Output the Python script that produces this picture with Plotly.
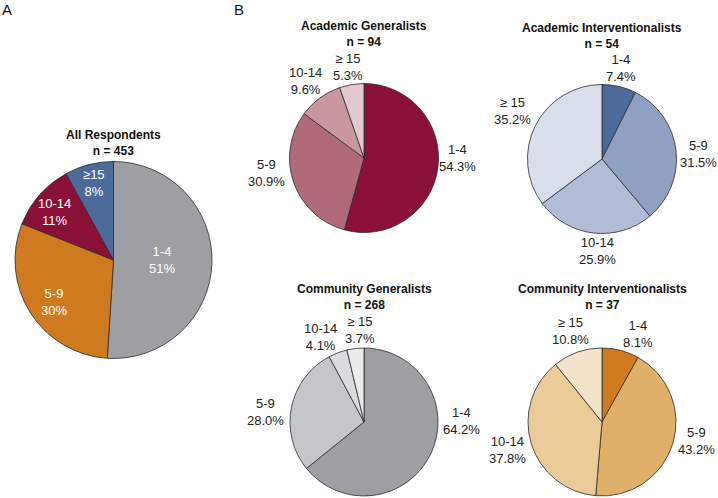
import math
import plotly.graph_objects as go

W, H = 718, 498

labels_a = ["1-4", "5-9", "10-14", "≥15"]
labels_b = ["1-4", "5-9", "10-14", "≥ 15"]

all_vals = [51, 30, 11, 8]
acad_gen = [54.3, 30.9, 9.6, 5.3]
acad_int = [7.4, 31.5, 25.9, 35.2]
comm_gen = [64.2, 28.0, 4.1, 3.7]
comm_int = [8.1, 43.2, 37.8, 10.8]

col_all = ["#9d9fa2", "#cf7a1e", "#8a1038", "#4c6a9a"]
col_ag = ["#8a1038", "#b06a7a", "#c9979f", "#e2c9cd"]
col_ai = ["#4c6a9a", "#8fa0c2", "#b3bcd6", "#d9deeb"]
col_cg = ["#9d9fa2", "#c5c6c9", "#dadbdd", "#ebebec"]
col_ci = ["#cf7a1e", "#e0af6a", "#ebcb98", "#f3e3ca"]

FONT = "Liberation Sans, Arial, Helvetica, sans-serif"

# layout: (name, n, labels, values, colours, cx, cy, r, inside, decimals,
#          label radius, title gap above pie, nudges)
panels = [
    ("All Respondents", 453, labels_a, all_vals, col_all, 113.5, 260, 98.5, True, 0, 0.55, 19,
     [(-6, -2), (-14, 13), (-18, -12), (-6, -25)]),
    ("Academic Generalists", 94, labels_b, acad_gen, col_ag, 364, 158, 74.5, False, 1, 20, 49,
     [(0, -13), (-8, -16), (-3, -1), (0, 2)]),
    ("Academic Interventionalists", 54, labels_b, acad_int, col_ai, 602, 159, 74.5, False, 1, 20, 49,
     [(-3, 1), (3, 6), (6, -2), (-5, -6)]),
    ("Community Generalists", 268, labels_b, comm_gen, col_cg, 364, 422, 74, False, 1, 20, 51,
     [(13, -42), (-6, 9), (-10, 3), (7, 1)]),
    ("Community Interventionalists", 37, labels_b, comm_int, col_ci, 602, 422, 74, False, 1, 20, 51,
     [(12, 3), (5, -9), (-5, 0), (0, -2)]),
]


def dom(cx, cy, r):
    return dict(x=[(cx - r) / W, (cx + r) / W], y=[(H - cy - r) / H, (H - cy + r) / H])


fig = go.Figure()

for name, n, labels, vals, cols, cx, cy, r, inside, dec, lr, tg, nudges in panels:
    fig.add_trace(go.Pie(
        labels=labels, values=vals, sort=False, direction="clockwise", rotation=0,
        marker=dict(colors=cols, line=dict(color="#2b2b2b", width=0.8)),
        domain=dom(cx, cy, r), textinfo="none",
        showlegend=False, hoverinfo="skip",
    ))
    # title
    fig.add_annotation(x=cx / W, y=1 - (cy - r - tg) / H, xref="paper", yref="paper",
                       text=f"<b>{name}</b><br><b>n = {n}</b>", showarrow=False,
                       xanchor="center", yanchor="middle",
                       font=dict(family=FONT, size=12, color="#111"))
    # slice labels, placed at each slice's mid-angle
    total = sum(vals)
    cum = 0.0
    rad = r * lr if inside else r + lr
    for lab, v, (dx, dy) in zip(labels, vals, nudges):
        mid = (cum + v / 2) / total * 2 * math.pi
        cum += v
        px = cx + rad * math.sin(mid) + dx
        py = cy - rad * math.cos(mid) + dy
        txt = f"{lab}<br>{v:.{dec}f}%"
        fig.add_annotation(x=px / W, y=1 - py / H, xref="paper", yref="paper",
                           text=txt, showarrow=False, xanchor="center", yanchor="middle",
                           font=dict(family=FONT, size=13,
                                     color="white" if inside else "#222"))

for letter, x in (("A", 0), ("B", 232)):
    fig.add_annotation(x=x / W, y=1 - 9 / H, xref="paper", yref="paper", text=letter,
                       showarrow=False, xanchor="left", yanchor="middle",
                       font=dict(family=FONT, size=15, color="#111"))

fig.update_layout(width=W, height=H, margin=dict(l=0, r=0, t=0, b=0),
                  paper_bgcolor="white", plot_bgcolor="white", hovermode=False)

fig.write_html("out.html", config={"displayModeBar": False},
               post_script="document.body.style.margin='0';document.body.style.overflow='hidden';")
